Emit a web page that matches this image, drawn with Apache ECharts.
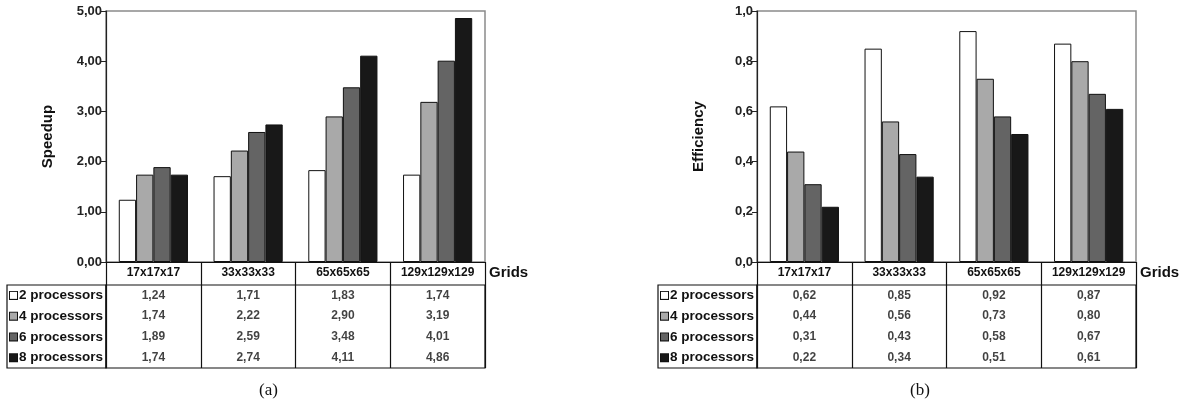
<!DOCTYPE html>
<html>
<head>
<meta charset="utf-8">
<script src="https://cdn.jsdelivr.net/npm/echarts@6/dist/echarts.min.js"></script>
<style>
html,body{margin:0;padding:0;background:#fff;}
#c{width:1193px;height:403px;}
</style>
</head>
<body>
<div id="c"></div>
<script>
// ---- data ----
const grids = ['17x17x17', '33x33x33', '65x65x65', '129x129x129'];
const rowLabels = ['2 processors', '4 processors', '6 processors', '8 processors'];
const speedup2 = [1.24, 1.71, 1.83, 1.74];
const speedup4 = [1.74, 2.22, 2.90, 3.19];
const speedup6 = [1.89, 2.59, 3.48, 4.01];
const speedup8 = [1.74, 2.74, 4.11, 4.86];
const eff2 = [0.62, 0.85, 0.92, 0.87];
const eff4 = [0.44, 0.56, 0.73, 0.80];
const eff6 = [0.31, 0.43, 0.58, 0.67];
const eff8 = [0.22, 0.34, 0.51, 0.61];
const speedupTicks = {min: 0, max: 5, interval: 1, decimals: 2};
const effTicks = {min: 0, max: 1, interval: 0.2, decimals: 1};

// ---- styles ----
const colors = ['#ffffff', '#a9a9a9', '#646464', '#181818'];
const FONT = 'Liberation Sans, Arial, sans-serif';
const fmt = (v, d) => v.toFixed(d).replace('.', ',');

const chart = echarts.init(document.getElementById('c'), null, {renderer: 'canvas'});

function panel(idx, leftX, speed, ticks, yName) {
  const g0 = idx * 2, g1 = idx * 2 + 1;
  const gridsOut = [
    {left: leftX, top: 11, width: 379, height: 251, show: true, borderColor: '#8a8a8a', borderWidth: 1.5, backgroundColor: 'transparent'},
    {left: leftX, top: 285, width: 379, height: 83, show: true, borderColor: '#111', borderWidth: 1.2, backgroundColor: 'transparent'}
  ];
  const xAxes = [
    {gridIndex: g0, type: 'category', data: grids, position: 'bottom',
     name: 'Grids', nameLocation: 'end', nameGap: 4,
     nameTextStyle: {fontFamily: FONT, fontWeight: 'bold', fontSize: 15, color: '#111', align: 'left', verticalAlign: 'top', padding: [3, 0, 0, 0]},
     axisLine: {lineStyle: {color: '#111', width: 1.2}},
     axisTick: {show: true, interval: 0, length: 23, lineStyle: {color: '#111', width: 1.2}},
     axisLabel: {interval: 0, margin: 5, fontFamily: FONT, fontWeight: 'bold', fontSize: 12, color: '#111'}
    },
    {gridIndex: g1, type: 'category', data: grids,
     axisLine: {show: false}, axisTick: {show: false}, axisLabel: {show: false},
     splitLine: {show: true, interval: 0, lineStyle: {color: '#111', width: 1.2}}
    }
  ];
  const rich = {t: {fontFamily: FONT, fontWeight: 'bold', fontSize: 13.5, color: '#111', padding: [0, 0, 0, 2]}};
  colors.forEach((c, i) => {
    rich['s' + i] = {width: 7, height: 7, backgroundColor: c, borderColor: '#111', borderWidth: 1};
  });
  const yAxes = [
    {gridIndex: g0, type: 'value', min: ticks.min, max: ticks.max, interval: ticks.interval,
     name: yName, nameLocation: 'middle', nameGap: 51, nameRotate: 90,
     nameTextStyle: {fontFamily: FONT, fontWeight: 'bold', fontSize: 15, color: '#111'},
     axisLine: {show: true, lineStyle: {color: '#222', width: 1.2}},
     axisTick: {show: true, length: 5, lineStyle: {color: '#222'}},
     splitLine: {show: false},
     axisLabel: {margin: 4, fontFamily: FONT, fontWeight: 'bold', fontSize: 13, color: '#222',
       formatter: v => fmt(v, ticks.decimals)}
    },
    {gridIndex: g1, type: 'category', data: rowLabels, inverse: true,
     axisLine: {show: false}, axisTick: {show: false}, splitLine: {show: false},
     axisLabel: {align: 'left', margin: 96, formatter: (v, i) => '{s' + i + '|}{t|' + v + '}', rich: rich}
    }
  ];
  const series = [];
  speed.forEach((arr, s) => {
    series.push({type: 'bar', xAxisIndex: g0, yAxisIndex: g0, data: arr,
      barGap: '0%', barCategoryGap: '27%',
      itemStyle: {color: colors[s], borderColor: '#111', borderWidth: 1},
      emphasis: {disabled: true}, animation: false});
  });
  const cells = [];
  speed.forEach((arr, r) => arr.forEach((v, c) => cells.push([c, r, v])));
  series.push({type: 'scatter', xAxisIndex: g1, yAxisIndex: g1, data: cells, symbolSize: 0,
    label: {show: true, position: 'inside', fontFamily: FONT, fontWeight: 'bold', fontSize: 12, color: '#111',
      formatter: p => fmt(p.data[2], 2)},
    animation: false, silent: true});
  return {gridsOut, xAxes, yAxes, series};
}

const A = panel(0, 106, [speedup2, speedup4, speedup6, speedup8], speedupTicks, 'Speedup');
const B = panel(1, 757, [eff2, eff4, eff6, eff8], effTicks, 'Efficiency');

chart.setOption({
  animation: false,
  backgroundColor: '#fff',
  grid: A.gridsOut.concat(B.gridsOut),
  xAxis: A.xAxes.concat(B.xAxes),
  yAxis: A.yAxes.concat(B.yAxes),
  series: A.series.concat(B.series),
  graphic: [
    {type: 'rect', shape: {x: 7, y: 285, width: 99, height: 83}, style: {fill: 'none', stroke: '#111', lineWidth: 1.2}, silent: true},
    {type: 'rect', shape: {x: 658, y: 285, width: 99, height: 83}, style: {fill: 'none', stroke: '#111', lineWidth: 1.2}, silent: true},
    {type: 'text', left: 259, top: 382, style: {text: '(a)', font: '17px "Liberation Serif", "Times New Roman", serif', fill: '#111'}},
    {type: 'text', left: 910, top: 382, style: {text: '(b)', font: '17px "Liberation Serif", "Times New Roman", serif', fill: '#111'}}
  ]
});
</script>
</body>
</html>
